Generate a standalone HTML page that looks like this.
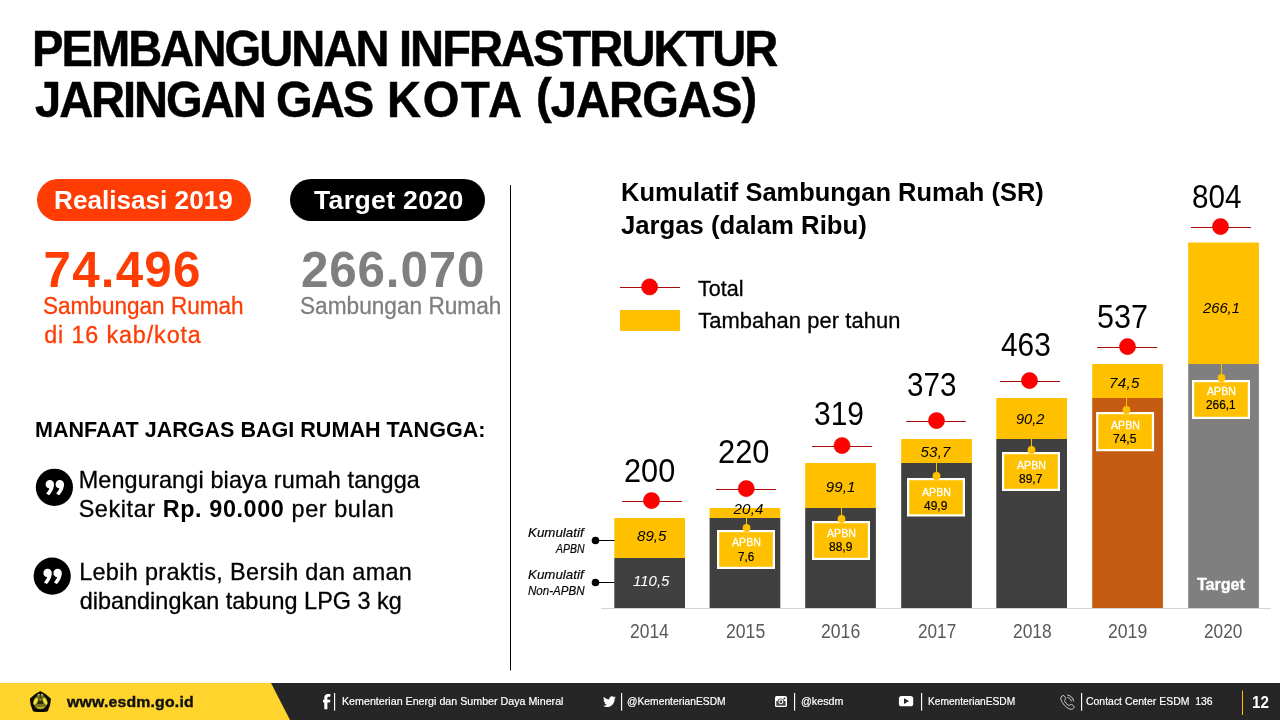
<!DOCTYPE html>
<html lang="id">
<head>
<meta charset="utf-8">
<title>Pembangunan Infrastruktur Jaringan Gas Kota (Jargas)</title>
<style>
html,body{margin:0;padding:0;background:#fff}
body{width:1280px;height:720px;position:relative;overflow:hidden;font-family:"Liberation Sans",sans-serif;color:#000}
svg{position:absolute;left:0;top:0}
.t{position:absolute;white-space:nowrap;line-height:0;transform-origin:0 0}
.t::before{content:"";display:inline-block;width:0;height:60px}
b{font-weight:bold}
.ti{-webkit-text-stroke:0.5px #000}
.s3{-webkit-text-stroke:0.3px}
.s3 b{-webkit-text-stroke:0}
.s2{-webkit-text-stroke:0.2px}
.pr{position:relative;top:-4px}
.s4{-webkit-text-stroke:0.4px}
</style>
</head>
<body>
<svg width="1280" height="720" viewBox="0 0 1280 720">
<rect x="37" y="179" width="214" height="42" rx="21" fill="#FE3C03"/>
<rect x="290" y="179" width="195" height="42" rx="21" fill="#000"/>
<rect x="510" y="185" width="1" height="485.5" fill="#000"/>
<circle cx="54.4" cy="487.3" r="18.6" fill="#000"/><path fill="#fff" d="M45.6 484.2a4.2 4.2 0 1 1 8.4 0c0 4.5 -2.7 9 -5 11.1l-2.8 -1.7c1.6 -1.9 2.8 -3.9 3.1 -5.3a4.2 4.2 0 0 1 -3.7 -4.1z"/><path fill="#fff" d="M55.6 484.2a4.2 4.2 0 1 1 8.4 0c0 4.5 -2.7 9 -5 11.1l-2.8 -1.7c1.6 -1.9 2.8 -3.9 3.1 -5.3a4.2 4.2 0 0 1 -3.7 -4.1z"/>
<circle cx="52.2" cy="576.1" r="18.6" fill="#000"/><path fill="#fff" d="M43.4 573a4.2 4.2 0 1 1 8.4 0c0 4.5 -2.7 9 -5 11.1l-2.8 -1.7c1.6 -1.9 2.8 -3.9 3.1 -5.3a4.2 4.2 0 0 1 -3.7 -4.1z"/><path fill="#fff" d="M53.4 573a4.2 4.2 0 1 1 8.4 0c0 4.5 -2.7 9 -5 11.1l-2.8 -1.7c1.6 -1.9 2.8 -3.9 3.1 -5.3a4.2 4.2 0 0 1 -3.7 -4.1z"/>
<rect x="620" y="287" width="60" height="1" fill="#A80A0A"/>
<circle cx="649.6" cy="286.9" r="8.1" fill="#FF0000" stroke="#D40000" stroke-width="0.5"/>
<rect x="620" y="310" width="60" height="21" fill="#FFC000"/>
<rect x="601" y="608" width="670" height="1" fill="#D4D4D4"/>
<rect x="614.3" y="518" width="70.7" height="40" fill="#FFC000"/>
<rect x="614.3" y="558" width="70.7" height="50" fill="#404040"/>
<rect x="709.6" y="508" width="70.7" height="10" fill="#FFC000"/>
<rect x="709.6" y="518" width="70.7" height="90" fill="#404040"/>
<rect x="805.2" y="463" width="70.7" height="45" fill="#FFC000"/>
<rect x="805.2" y="508" width="70.7" height="100" fill="#404040"/>
<rect x="901.2" y="439" width="70.7" height="24" fill="#FFC000"/>
<rect x="901.2" y="463" width="70.7" height="145" fill="#404040"/>
<rect x="996.3" y="398" width="70.7" height="41" fill="#FFC000"/>
<rect x="996.3" y="439" width="70.7" height="169" fill="#404040"/>
<rect x="1092.2" y="364" width="70.7" height="34" fill="#FFC000"/>
<rect x="1092.2" y="398" width="70.7" height="210" fill="#C55A11"/>
<rect x="1188.2" y="242.5" width="70.7" height="121.5" fill="#FFC000"/>
<rect x="1188.2" y="364" width="70.7" height="244" fill="#7F7F7F"/>
<rect x="622" y="501" width="60" height="1" fill="#A80A0A"/>
<circle cx="651.5" cy="500.6" r="8.1" fill="#FF0000" stroke="#D40000" stroke-width="0.5"/>
<rect x="716" y="489" width="60" height="1" fill="#A80A0A"/>
<circle cx="746.25" cy="488.6" r="8.1" fill="#FF0000" stroke="#D40000" stroke-width="0.5"/>
<rect x="812" y="446" width="60" height="1" fill="#A80A0A"/>
<circle cx="842" cy="445.6" r="8.1" fill="#FF0000" stroke="#D40000" stroke-width="0.5"/>
<rect x="906.25" y="421" width="59.5" height="1" fill="#A80A0A"/>
<circle cx="936.5" cy="420.6" r="8.1" fill="#FF0000" stroke="#D40000" stroke-width="0.5"/>
<rect x="1000" y="381" width="60" height="1" fill="#A80A0A"/>
<circle cx="1029.5" cy="380.6" r="8.1" fill="#FF0000" stroke="#D40000" stroke-width="0.5"/>
<rect x="1097" y="347" width="60" height="1" fill="#A80A0A"/>
<circle cx="1127.5" cy="346.6" r="8.1" fill="#FF0000" stroke="#D40000" stroke-width="0.5"/>
<rect x="1191" y="227" width="60" height="1" fill="#A80A0A"/>
<circle cx="1220.5" cy="226.6" r="8.1" fill="#FF0000" stroke="#D40000" stroke-width="0.5"/>
<rect x="746" y="518" width="1" height="12" fill="#FFC000"/>
<rect x="718.1" y="531.1" width="55.8" height="36.8" fill="#FFC000" stroke="#fff" stroke-width="2.2"/>
<circle cx="746.5" cy="528" r="3.9" fill="#FFC000"/>
<rect x="841" y="508" width="1" height="13" fill="#FFC000"/>
<rect x="813.1" y="522.1" width="55.8" height="36.8" fill="#FFC000" stroke="#fff" stroke-width="2.2"/>
<circle cx="841.5" cy="519" r="3.9" fill="#FFC000"/>
<rect x="936" y="463" width="1" height="15" fill="#FFC000"/>
<rect x="908.1" y="479.1" width="55.8" height="36.3" fill="#FFC000" stroke="#fff" stroke-width="2.2"/>
<circle cx="936.5" cy="476" r="3.9" fill="#FFC000"/>
<rect x="1031" y="439" width="1" height="13" fill="#FFC000"/>
<rect x="1003.1" y="453.1" width="55.8" height="36.8" fill="#FFC000" stroke="#fff" stroke-width="2.2"/>
<circle cx="1031.5" cy="450" r="3.9" fill="#FFC000"/>
<rect x="1126" y="398" width="1" height="14" fill="#FFC000"/>
<rect x="1097.2" y="413.1" width="55.8" height="37.05" fill="#FFC000" stroke="#fff" stroke-width="2.2"/>
<circle cx="1126.5" cy="410" r="3.9" fill="#FFC000"/>
<rect x="1221" y="364" width="1" height="16" fill="#FFC000"/>
<rect x="1193.1" y="381.1" width="55.8" height="36.8" fill="#FFC000" stroke="#fff" stroke-width="2.2"/>
<circle cx="1221.5" cy="378" r="3.9" fill="#FFC000"/>
<rect x="595.5" y="540" width="19" height="1" fill="#000"/>
<circle cx="595.5" cy="540.5" r="3.8" fill="#000"/>
<rect x="595.5" y="582" width="19" height="1" fill="#000"/>
<circle cx="595.5" cy="582.5" r="3.8" fill="#000"/>
<rect x="0" y="683" width="1280" height="37" fill="#262626"/>
<polygon points="0,683 271,683 290,720 0,720" fill="#FED42D"/>
<rect x="334" y="693" width="1.15" height="17.7" fill="#fff"/>
<rect x="621" y="693" width="1.15" height="17.7" fill="#fff"/>
<rect x="794" y="693" width="1.15" height="17.7" fill="#fff"/>
<rect x="921" y="693" width="1.15" height="17.7" fill="#fff"/>
<rect x="1081" y="693" width="1.15" height="17.7" fill="#fff"/>
<rect x="1242" y="690.5" width="1" height="24.5" fill="#FFC000"/>
<g><path d="M40.4 691.9Q46.4 694.6 50.2 698.9Q49.9 705.6 47.2 710.7Q40.4 711.7 33.6 710.7Q30.900 705.6 30.6 698.9Q34.4 694.6 40.4 691.9Z" fill="#0d0b00" stroke="#0d0b00" stroke-width="1.5" stroke-linejoin="round"/><circle cx="40.4" cy="702.3" r="7" fill="#77741a"/><ellipse cx="35.6" cy="701.4" rx="1.7" ry="3.6" fill="#eee43a" transform="rotate(24 35.6 701.4)"/><ellipse cx="45.2" cy="701.4" rx="1.7" ry="3.6" fill="#eee43a" transform="rotate(-24 45.2 701.4)"/><path d="M37.200 694.9Q38.6 693.900 39.7 693.8L39.7 695.3Q38.6 695.5 37.9 696Z" fill="#d6d27c"/><path d="M43.6 694.9Q42.2 693.900 41.1 693.8L41.1 695.3Q42.2 695.5 42.9 696Z" fill="#d6d27c"/><path d="M40.4 695.6L43.6 704L37.200 704Z" fill="#2c2c06"/><circle cx="40.4" cy="699.6" r="1.3" fill="#8e8c1f"/><path d="M36.2 706.3Q40.4 708.300 44.6 706.3L43.8 708.2Q40.4 709.6 37 708.2Z" fill="#b9b52e"/></g>
<path fill="#fff" d="M330.4 694v2.7h-1.7c-.9 0-1.3.5-1.3 1.3v1.8h3l-.4 2.8h-2.6v6.7h-3.1v-6.7h-1.3v-2.8h1.3v-2.2c0-2.3 1.400-3.700 3.600-3.700z"/>
<path fill="#fff" transform="translate(603 694.9) scale(0.0252 0.0262)" d="M459.37 151.716c.325 4.548.325 9.097.325 13.645 0 138.72-105.583 298.558-298.558 298.558-59.452 0-114.68-17.219-161.137-47.106 8.447.974 16.568 1.299 25.34 1.299 49.055 0 94.213-16.568 130.274-44.832-46.132-.975-84.792-31.188-98.112-72.772 6.498.974 12.995 1.624 19.818 1.624 9.421 0 18.843-1.3 27.614-3.573-48.081-9.747-84.143-51.98-84.143-102.985v-1.299c13.969 7.797 30.214 12.67 47.431 13.319-28.264-18.843-46.781-51.005-46.781-87.391 0-19.492 5.197-37.36 14.294-52.954 51.655 63.675 129.3 105.258 216.365 109.807-1.624-7.797-2.599-15.918-2.599-24.04 0-57.828 46.782-104.934 104.934-104.934 30.213 0 57.502 12.67 76.67 33.137 23.715-4.548 46.456-13.32 66.599-25.34-7.798 24.366-24.366 44.833-46.132 57.827 21.117-2.273 41.584-8.122 60.426-16.243-14.292 20.791-32.161 39.308-52.628 54.253z"/>
<g><rect x="775" y="696" width="12" height="11.1" rx="1.7" fill="#fff"/><rect x="776.3" y="700.9" width="9.3" height="4.9" rx=".5" fill="#454545"/><circle cx="780.9" cy="701.7" r="3.3" fill="#505050"/><circle cx="780.9" cy="701.7" r="2.35" fill="#fff"/><circle cx="780.9" cy="701.7" r="1.3" fill="#2a2a2a"/><circle cx="784.5" cy="698.4" r="0.9" fill="#2a2a2a"/></g>
<g><rect x="898.9" y="696" width="14.3" height="10.3" rx="2.6" fill="#fff"/><path d="M904 698.200L909 701.100L904 704.050Z" fill="#262626"/></g>
<g fill="none" stroke="#e4e4e4" stroke-width="0.95" stroke-linecap="round" stroke-linejoin="round" transform="translate(1060 695) scale(0.93) translate(-1060 -695.200)"><path d="M1062.100 696.300c.9-.8 2.100-.7 2.800.2l.9 1.500c.5.800.3 1.700-.4 2.300c-.6.500-.7 1.100-.3 1.800c1 1.700 2.300 3.100 3.900 4.200c.6.400 1.200.3 1.700-.3c.6-.7 1.600-.8 2.400-.3l1.300.9c.9.700 1 1.900.2 2.800c-1.200 1.400-3.300 1.500-5.400.4c-3.500-1.900-6.300-5.200-7.900-9c-.8-1.800-.500-3.500.8-4.500z"/><path d="M1068.300 695.300c3.300.4 5.800 2.900 6.300 6.300"/><path d="M1068.400 697.900c1.900.4 3.300 1.800 3.700 3.700"/></g>
</svg>
<div class="t ti" style="left:32.39px;top:6.00px;font-size:49.6px;letter-spacing:-2.041px;transform:scaleX(0.9500);font-weight:bold;">PEMBANGUNAN</div>
<div class="t ti" style="left:398.64px;top:6.00px;font-size:49.6px;letter-spacing:-2.076px;transform:scaleX(0.9500);font-weight:bold;">INFRASTRUKTUR</div>
<div class="t ti" style="left:35.24px;top:57.00px;font-size:49.6px;letter-spacing:-2.163px;transform:scaleX(0.9500);font-weight:bold;">JARINGAN</div>
<div class="t ti" style="left:276.34px;top:57.00px;font-size:49.6px;letter-spacing:-2.064px;transform:scaleX(0.9500);font-weight:bold;">GAS</div>
<div class="t ti" style="left:387.39px;top:57.00px;font-size:49.6px;letter-spacing:1.806px;transform:scaleX(0.9500);font-weight:bold;">KOTA</div>
<div class="t ti" style="left:536.34px;top:57.00px;font-size:49.6px;letter-spacing:-0.998px;transform:scaleX(0.9500);font-weight:bold;"><span class="pr">(</span>JARGAS<span class="pr">)</span></div>
<div class="t" style="left:54.02px;top:149.00px;font-size:26.6px;transform:scaleX(0.9829);font-weight:bold;color:#fff;">Realisasi 2019</div>
<div class="t" style="left:314.00px;top:149.00px;font-size:26.6px;letter-spacing:0.344px;font-weight:bold;color:#fff;">Target 2020</div>
<div class="t" style="left:43.50px;top:227.00px;font-size:49.3px;letter-spacing:1.227px;font-weight:bold;color:#FD3D04;">74.496</div>
<div class="t" style="left:301.00px;top:227.00px;font-size:49.3px;letter-spacing:0.870px;font-weight:bold;color:#7F7F7F;">266.070</div>
<div class="t s3" style="left:43.18px;top:254.40px;font-size:23.3px;transform:scaleX(0.9680);color:#FD3D04;">Sambungan Rumah</div>
<div class="t s3" style="left:44.15px;top:283.40px;font-size:23.3px;letter-spacing:0.892px;color:#FD3D04;">di 16 kab/kota</div>
<div class="t s3" style="left:299.92px;top:254.40px;font-size:23.3px;transform:scaleX(0.9717);color:#7F7F7F;">Sambungan Rumah</div>
<div class="t" style="left:35.05px;top:377.00px;font-size:22.7px;transform:scaleX(0.9496);font-weight:bold;">MANFAAT JARGAS BAGI RUMAH TANGGA:</div>
<div class="t s3" style="left:78.65px;top:427.75px;font-size:23.4px;letter-spacing:0.158px;">Mengurangi biaya rumah tangga</div>
<div class="t s3" style="left:78.65px;top:456.75px;font-size:23.4px;letter-spacing:0.598px;">Sekitar <b>Rp. 90.000</b> per bulan</div>
<div class="t s3" style="left:79.15px;top:519.75px;font-size:23.4px;letter-spacing:0.354px;">Lebih praktis, Bersih dan aman</div>
<div class="t s3" style="left:79.65px;top:548.50px;font-size:23.4px;letter-spacing:0.037px;">dibandingkan tabung LPG 3 kg</div>
<div class="t" style="left:621.04px;top:141.00px;font-size:26.4px;transform:scaleX(0.9643);font-weight:bold;">Kumulatif Sambungan Rumah (SR)</div>
<div class="t" style="left:621.00px;top:173.75px;font-size:26.4px;transform:scaleX(0.9743);font-weight:bold;">Jargas (dalam Ribu)</div>
<div class="t s3" style="left:698.15px;top:235.75px;font-size:21.9px;transform:scaleX(0.9851);">Total</div>
<div class="t s3" style="left:698.15px;top:267.50px;font-size:21.9px;letter-spacing:0.092px;">Tambahan per tahun</div>
<div class="t" style="left:623.56px;top:422.00px;font-size:32.6px;transform:scaleX(0.9428);">200</div>
<div class="t" style="left:717.55px;top:402.50px;font-size:32.6px;transform:scaleX(0.9476);">220</div>
<div class="t" style="left:813.58px;top:364.50px;font-size:32.6px;transform:scaleX(0.9189);">319</div>
<div class="t" style="left:906.59px;top:336.00px;font-size:32.6px;transform:scaleX(0.9093);">373</div>
<div class="t" style="left:1000.75px;top:295.75px;font-size:32.6px;transform:scaleX(0.9157);">463</div>
<div class="t" style="left:1097.06px;top:268.25px;font-size:32.6px;transform:scaleX(0.9380);">537</div>
<div class="t" style="left:1191.59px;top:147.50px;font-size:32.6px;transform:scaleX(0.9110);">804</div>
<div class="t" style="left:637.00px;top:480.50px;font-size:15.1px;letter-spacing:0.006px;font-style:italic;">89,5</div>
<div class="t" style="left:632.50px;top:525.75px;font-size:15.1px;transform:scaleX(0.9931);font-style:italic;color:#fff;">110,5</div>
<div class="t" style="left:733.50px;top:454.00px;font-size:15.1px;letter-spacing:0.173px;font-style:italic;">20,4</div>
<div class="t" style="left:825.75px;top:431.75px;font-size:15.1px;letter-spacing:0.089px;font-style:italic;">99,1</div>
<div class="t" style="left:920.50px;top:396.75px;font-size:15.1px;letter-spacing:0.173px;font-style:italic;">53,7</div>
<div class="t" style="left:1015.50px;top:363.75px;font-size:15.1px;transform:scaleX(0.9672);font-style:italic;">90,2</div>
<div class="t" style="left:1109.00px;top:327.50px;font-size:15.1px;letter-spacing:0.339px;font-style:italic;">74,5</div>
<div class="t" style="left:1202.98px;top:252.50px;font-size:15.1px;transform:scaleX(0.9772);font-style:italic;">266,1</div>
<div class="t s2" style="left:528.10px;top:477.00px;font-size:13.6px;transform:scaleX(0.9812);font-style:italic;">Kumulatif</div>
<div class="t s2" style="left:556.25px;top:492.50px;font-size:13.6px;transform:scaleX(0.7696);font-style:italic;">APBN</div>
<div class="t s2" style="left:528.10px;top:518.75px;font-size:13.6px;transform:scaleX(0.9812);font-style:italic;">Kumulatif</div>
<div class="t s2" style="left:528.09px;top:534.50px;font-size:13.6px;transform:scaleX(0.8520);font-style:italic;">Non-APBN</div>
<div class="t" style="left:630.00px;top:578.00px;font-size:19.4px;transform:scaleX(0.8996);color:#595959;">2014</div>
<div class="t" style="left:725.50px;top:578.00px;font-size:19.4px;transform:scaleX(0.9090);color:#595959;">2015</div>
<div class="t" style="left:821.00px;top:578.00px;font-size:19.4px;transform:scaleX(0.9090);color:#595959;">2016</div>
<div class="t" style="left:917.50px;top:578.00px;font-size:19.4px;transform:scaleX(0.8854);color:#595959;">2017</div>
<div class="t" style="left:1012.50px;top:578.00px;font-size:19.4px;transform:scaleX(0.8972);color:#595959;">2018</div>
<div class="t" style="left:1108.00px;top:578.00px;font-size:19.4px;transform:scaleX(0.9090);color:#595959;">2019</div>
<div class="t" style="left:1204.00px;top:578.00px;font-size:19.4px;transform:scaleX(0.8881);color:#595959;">2020</div>
<div class="t s3" style="left:1196.56px;top:530.00px;font-size:15.6px;letter-spacing:-0.107px;transform:scaleX(1.0400);font-weight:bold;color:#fff;">Target</div>
<div class="t s4" style="left:67.05px;top:647.00px;font-size:15.2px;letter-spacing:0.194px;transform:scaleX(1.0400);font-weight:bold;color:#111;">www.esdm.go.id</div>
<div class="t s2" style="left:342.10px;top:645.00px;font-size:11px;transform:scaleX(0.9711);color:#fff;">Kementerian Energi dan Sumber Daya Mineral</div>
<div class="t s2" style="left:626.89px;top:645.00px;font-size:11px;transform:scaleX(0.9367);color:#fff;">@KementerianESDM</div>
<div class="t s2" style="left:800.90px;top:645.00px;font-size:11px;transform:scaleX(0.9735);color:#fff;">@kesdm</div>
<div class="t s2" style="left:928.34px;top:645.00px;font-size:11px;transform:scaleX(0.9262);color:#fff;">KementerianESDM</div>
<div class="t s2" style="left:1086.35px;top:645.00px;font-size:11px;transform:scaleX(0.9503);color:#fff;">Contact Center ESDM&nbsp; 136</div>
<div class="t" style="left:1252.25px;top:648.00px;font-size:15.7px;transform:scaleX(0.9676);font-weight:bold;color:#fff;">12</div>
<div class="t s3" style="left:731.64px;top:486.30px;font-size:11.4px;transform:scaleX(0.9320);color:#fff;">APBN</div>
<div class="t s2" style="left:737.84px;top:501.00px;font-size:12.2px;transform:scaleX(0.9497);">7,6</div>
<div class="t s3" style="left:826.64px;top:476.60px;font-size:11.4px;transform:scaleX(0.9320);color:#fff;">APBN</div>
<div class="t s2" style="left:829.20px;top:490.50px;font-size:12.2px;transform:scaleX(0.9857);">88,9</div>
<div class="t s3" style="left:921.64px;top:435.60px;font-size:11.4px;transform:scaleX(0.9320);color:#fff;">APBN</div>
<div class="t s2" style="left:924.20px;top:449.80px;font-size:12.2px;transform:scaleX(0.9857);">49,9</div>
<div class="t s3" style="left:1016.64px;top:408.80px;font-size:11.4px;transform:scaleX(0.9320);color:#fff;">APBN</div>
<div class="t s2" style="left:1019.20px;top:422.70px;font-size:12.2px;transform:scaleX(0.9857);">89,7</div>
<div class="t s3" style="left:1110.84px;top:368.90px;font-size:11.4px;transform:scaleX(0.9320);color:#fff;">APBN</div>
<div class="t s2" style="left:1113.40px;top:382.80px;font-size:12.2px;transform:scaleX(0.9857);">74,5</div>
<div class="t s3" style="left:1206.64px;top:334.60px;font-size:11.4px;transform:scaleX(0.9320);color:#fff;">APBN</div>
<div class="t s2" style="left:1206.10px;top:348.90px;font-size:12.2px;transform:scaleX(0.9700);">266,1</div>
</body>
</html>
